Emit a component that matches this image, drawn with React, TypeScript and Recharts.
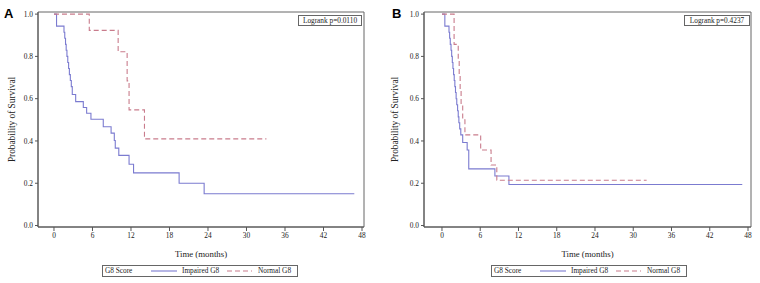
import { Line, LineChart, ReferenceArea, XAxis, YAxis } from "recharts";

const FONT = '"Liberation Serif", "Times New Roman", serif';
const IMPAIRED_COLOR = "#7b7bd0";
const NORMAL_COLOR = "#c97c8c";

const monthTicks = [0, 6, 12, 18, 24, 30, 36, 42, 48];
const survivalTicks = [0, 0.2, 0.4, 0.6, 0.8, 1.0];

// Panel A – Kaplan-Meier estimates
const impairedATime = [0, 0.4, 1.56, 1.68, 1.8, 1.9, 2.02, 2.15, 2.28, 2.4, 2.55, 2.7, 2.85, 3.38, 4.57, 5.09, 5.76, 7.68, 8.9, 9.4, 9.55, 10.1, 11.7, 12.4, 19.5, 23.4, 46.8];
const impairedASurv = [1.0, 0.943, 0.914, 0.886, 0.857, 0.829, 0.8, 0.771, 0.743, 0.714, 0.686, 0.657, 0.62, 0.586, 0.558, 0.531, 0.503, 0.467, 0.437, 0.402, 0.366, 0.332, 0.29, 0.249, 0.2, 0.15, 0.15];
const normalATime = [0, 5.5, 10.0, 11.4, 11.7, 14.1, 33.1];
const normalASurv = [1.0, 0.923, 0.822, 0.684, 0.547, 0.41, 0.41];

// Panel B – Kaplan-Meier estimates
const impairedBTime = [0, 0.45, 1.1, 1.2, 1.3, 1.42, 1.52, 1.62, 1.72, 1.82, 1.92, 2.02, 2.12, 2.22, 2.32, 2.45, 2.55, 2.65, 2.78, 2.95, 3.25, 3.95, 4.2, 8.3, 10.5, 47.1];
const impairedBSurv = [1.0, 0.943, 0.914, 0.886, 0.857, 0.829, 0.8, 0.771, 0.743, 0.714, 0.686, 0.657, 0.629, 0.6, 0.571, 0.543, 0.514, 0.486, 0.457, 0.429, 0.393, 0.357, 0.268, 0.234, 0.194, 0.194];
const normalBTime = [0, 1.9, 2.55, 2.7, 2.85, 3.0, 3.25, 3.6, 6.07, 7.7, 8.6, 32.1];
const normalBSurv = [1.0, 0.857, 0.786, 0.714, 0.643, 0.571, 0.5, 0.429, 0.357, 0.286, 0.214, 0.214];

const toPoints = (time: number[], surv: number[]) => time.map((t, i) => ({ t, s: surv[i] }));

const Y_DOMAIN: [number, number] = [-0.007, 1.01];
const TICK_STYLE = { fontSize: 7.4, fill: "#222", fontFamily: FONT };

type PanelProps = {
    left: number;
    letter: string;
    letterX: number;
    logrank: string;
    logrankX: number;
    logrankW: number;
    yAxisWidth: number;
    marginRight: number;
    xDomain: [number, number];
    yLabelOffset: number;
    legendX: number;
    impaired: { t: number; s: number }[];
    normal: { t: number; s: number }[];
};

const Legend = ({ x }: { x: number }) => (
    <div style={{
        position: "absolute", left: x, top: 265, width: 194, height: 10,
        border: "1px solid #666", fontFamily: FONT, fontSize: 7.3, color: "#222",
        lineHeight: "10px", whiteSpace: "nowrap",
    }}>
        <span style={{ position: "absolute", left: 2 }}>G8 Score</span>
        <svg style={{ position: "absolute", left: 48, top: 0 }} width={26} height={10}>
            <line x1={0} x2={26} y1={5} y2={5} stroke={IMPAIRED_COLOR} strokeWidth={1.1} />
        </svg>
        <span style={{ position: "absolute", left: 79 }}>Impaired G8</span>
        <svg style={{ position: "absolute", left: 124, top: 0 }} width={25} height={10}>
            <line x1={0} x2={25} y1={5} y2={5} stroke={NORMAL_COLOR} strokeWidth={1.1} strokeDasharray="5 3" />
        </svg>
        <span style={{ position: "absolute", left: 155 }}>Normal G8</span>
    </div>
);

const Panel = (p: PanelProps) => (
    <div style={{ position: "absolute", left: p.left, top: 0, width: 380, height: 283 }}>
        <LineChart width={380} height={283} margin={{ top: 12, right: p.marginRight, left: 0, bottom: 26 }}>
            <XAxis
                type="number"
                dataKey="t"
                domain={p.xDomain}
                allowDataOverflow
                ticks={monthTicks}
                interval={0}
                height={30}
                tickSize={4}
                tickMargin={2}
                stroke="#555"
                tick={TICK_STYLE}
                label={{ value: "Time (months)", position: "insideBottom", offset: 0, style: { fontSize: 8.8, fill: "#222", fontFamily: FONT } }}
            />
            <YAxis
                type="number"
                dataKey="s"
                domain={Y_DOMAIN}
                allowDataOverflow
                ticks={survivalTicks}
                interval={0}
                width={p.yAxisWidth}
                tickSize={3}
                tickMargin={2}
                stroke="#555"
                tickFormatter={(v: number) => v.toFixed(1)}
                tick={TICK_STYLE}
                label={{ value: "Probability of Survival", angle: -90, position: "insideLeft", offset: p.yLabelOffset, style: { textAnchor: "middle", fontSize: 9.3, fill: "#222", fontFamily: FONT } }}
            />
            <ReferenceArea x1={p.xDomain[0]} x2={p.xDomain[1]} y1={Y_DOMAIN[0]} y2={Y_DOMAIN[1]} fill="none" stroke="#666" strokeWidth={1} />
            <Line data={p.impaired} dataKey="s" type="stepAfter" stroke={IMPAIRED_COLOR} strokeWidth={1.1} dot={false} isAnimationActive={false} />
            <Line data={p.normal} dataKey="s" type="stepAfter" stroke={NORMAL_COLOR} strokeWidth={1.1} strokeDasharray="5 3" dot={false} isAnimationActive={false} />
        </LineChart>
        <div style={{ position: "absolute", left: p.letterX, top: 7, fontFamily: "'Liberation Sans', Arial, sans-serif", fontWeight: 700, fontSize: 13, lineHeight: "13px" }}>{p.letter}</div>
        <div style={{
            position: "absolute", left: p.logrankX, top: 15, width: p.logrankW, height: 9,
            border: "1px solid #666", fontFamily: FONT, fontSize: 7.3, lineHeight: "9px",
            textAlign: "center", color: "#222", whiteSpace: "nowrap",
        }}>{p.logrank}</div>
        <Legend x={p.legendX} />
    </div>
);

export default function App() {
    return (
        <div style={{ position: "absolute", left: 0, top: 0, width: 760, height: 283, background: "#fff", overflow: "hidden" }}>
            <Panel
                left={0}
                letter="A"
                letterX={4}
                logrank="Logrank p=0.0110"
                logrankX={298}
                logrankW={62}
                yAxisWidth={38}
                marginRight={16}
                xDomain={[-2.49, 48.31]}
                yLabelOffset={12}
                legendX={102}
                impaired={toPoints(impairedATime, impairedASurv)}
                normal={toPoints(normalATime, normalASurv)}
            />
            <Panel
                left={380}
                letter="B"
                letterX={12}
                logrank="Logrank p=0.4237"
                logrankX={304}
                logrankW={64}
                yAxisWidth={44}
                marginRight={9}
                xDomain={[-2.82, 48.47]}
                yLabelOffset={15}
                legendX={111}
                impaired={toPoints(impairedBTime, impairedBSurv)}
                normal={toPoints(normalBTime, normalBSurv)}
            />
        </div>
    );
}
